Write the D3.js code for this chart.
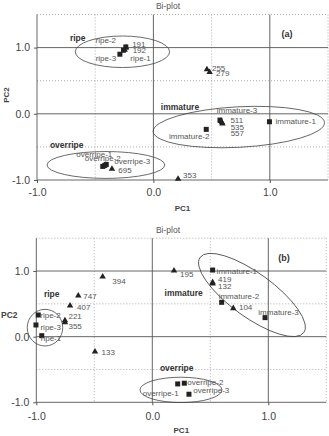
<!DOCTYPE html>
<html>
<head>
<meta charset="utf-8">
<script src="https://cdn.jsdelivr.net/npm/d3@7"></script>
<style>
  body { margin: 0; background: #fff; }
  svg { display: block; font-family: 'Liberation Sans', Arial, sans-serif; }
</style>
</head>
<body>
<svg id="chart" width="329" height="436"></svg>
<script>
// shared axis ticks
const majorTicks = [-1, 0, 1]
const minorTicks = [-0.5, 0.5, 1.5]
const tickLabels = ['-1.0', '0.0', '1.0']

// panel (a) samples (squares) and volatiles (triangles), PC1 / PC2 scores
const samplesA = [
  { name: 'ripe-2', x: -0.237, y: 1.01 },
  { name: 'ripe-1', x: -0.257, y: 0.96 },
  { name: 'ripe-3', x: -0.288, y: 0.9 },
  { name: 'immature-3', x: 0.572, y: -0.095 },
  { name: 'immature-1', x: 0.997, y: -0.12 },
  { name: 'immature-2', x: 0.454, y: -0.235 },
  { name: 'overripe-1', x: -0.435, y: -0.795 },
  { name: 'overripe-2', x: -0.418, y: -0.78 },
  { name: 'overripe-3', x: -0.405, y: -0.765 },
]
const volatilesA = [
  { name: '191', x: -0.234, y: 1.0 },
  { name: '192', x: -0.247, y: 0.967 },
  { name: '255', x: 0.46, y: 0.67 },
  { name: '279', x: 0.483, y: 0.628 },
  { name: '511', x: 0.58, y: -0.11 },
  { name: '535', x: 0.589, y: -0.13 },
  { name: '557', x: 0.593, y: -0.15 },
  { name: '695', x: -0.356, y: -0.833 },
  { name: '353', x: 0.212, y: -0.983 },
]
const groupsA = [
  { name: 'ripe', cx: -0.266, cy: 0.937, rx: 0.405, ry: 0.238, angle: 0 },
  { name: 'immature', cx: 0.734, cy: -0.2, rx: 0.737, ry: 0.306, angle: -3 },
  { name: 'overripe', cx: -0.408, cy: -0.773, rx: 0.506, ry: 0.203, angle: 0 },
]

// panel (b)
const samplesB = [
  { name: 'ripe-2', x: -0.983, y: 0.33 },
  { name: 'ripe-3', x: -1.003, y: 0.178 },
  { name: 'ripe-1', x: -0.953, y: 0.015 },
  { name: 'immature-1', x: 0.52, y: 1.015 },
  { name: 'immature-2', x: 0.598, y: 0.523 },
  { name: 'immature-3', x: 0.972, y: 0.29 },
  { name: 'overripe-1', x: 0.219, y: -0.72 },
  { name: 'overripe-2', x: 0.276, y: -0.709 },
  { name: 'overripe-3', x: 0.316, y: -0.877 },
]
const volatilesB = [
  { name: '195', x: 0.187, y: 1.005 },
  { name: '394', x: -0.428, y: 0.913 },
  { name: '747', x: -0.638, y: 0.624 },
  { name: '407', x: -0.709, y: 0.472 },
  { name: '221', x: -0.753, y: 0.247 },
  { name: '355', x: -0.753, y: 0.216 },
  { name: '133', x: -0.494, y: -0.228 },
  { name: '419', x: 0.52, y: 0.828 },
  { name: '132', x: 0.52, y: 0.807 },
  { name: '104', x: 0.698, y: 0.432 },
]
const groupsB = [
  { name: 'ripe', cx: -0.925, cy: 0.137, rx: 0.153, ry: 0.279, angle: 0 },
  { name: 'immature', cx: 0.859, cy: 0.635, rx: 0.552, ry: 0.335, angle: 36 },
  { name: 'overripe', cx: 0.247, cy: -0.811, rx: 0.353, ry: 0.193, angle: 0 },
]

// label placement (px offsets from the mark) -- layout only
const labelPosA = {
  'ripe-2': [-20, -6.5, 'middle'], 'ripe-1': [17, 8.5, 'middle'], 'ripe-3': [-14, 4.5, 'middle'],
  '191': [6, -2.5, 'start'], '192': [8, 1.5, 'start'],
  '255': [5, -0.5, 'start'], '279': [6.5, 1.5, 'start'],
  'immature-3': [17, -9, 'middle'], '511': [9.5, 0, 'start'], '535': [8.7, 5.2, 'start'], '557': [8.2, 10.5, 'start'],
  'immature-1': [6, 0, 'start'], 'immature-2': [-17, 7.4, 'middle'],
  'overripe-1': [-8.5, -11.5, 'middle'], 'overripe-2': [-2, -6.5, 'middle'], 'overripe-3': [8, -2.2, 'start'],
  '695': [13, 2, 'middle'], '353': [5, -3, 'start'],
}
const groupLabelPosA = { ripe: [77.7, 39], immature: [180, 107.3], overripe: [66.7, 145.7] }

const labelPosB = {
  '195': [6, 4, 'start'], '394': [9.6, 5, 'start'], '747': [5, 1, 'start'], '407': [7, 2.5, 'start'],
  '221': [3.5, -4, 'start'], '355': [3.5, 4.5, 'start'], '133': [6.5, 1.5, 'start'],
  'ripe-2': [2, 1, 'start'], 'ripe-3': [4.5, 2.7, 'start'], 'ripe-1': [-1, 3.5, 'start'],
  'immature-1': [4, 1.7, 'start'], '419': [5.5, -2.3, 'start'], '132': [5.5, 3.7, 'start'],
  'immature-2': [-3, -5.5, 'start'], '104': [5.7, -0.6, 'start'], 'immature-3': [-6.7, -4.4, 'start'],
  'overripe-2': [3, 0, 'start'], 'overripe-3': [4.3, -3.3, 'start'], 'overripe-1': [1, 10, 'end'],
}
const groupLabelPosB = { ripe: [51.7, 295], immature: [183.7, 294], overripe: [176.7, 369] }

const svg = d3.select('#chart')

function drawPanel(opt) {
  const { box, samples, volatiles, groups, labelPos, groupLabelPos, tag, tagPos } = opt

  const x = d3.scaleLinear().domain([-1, 1.5]).range([box.left, box.right])
  const y = d3.scaleLinear().domain([-1, 1.5]).range([box.bottom, box.top])

  const g = svg.append('g')

  // title
  g.append('text')
    .attr('x', 168)
    .attr('y', box.top - 5.5)
    .attr('text-anchor', 'middle')
    .attr('font-size', 8.5)
    .attr('fill', '#555')
    .text('Bi-plot')

  // dotted minor grid
  const grid = g.append('g').attr('stroke', '#999').attr('stroke-width', 0.8)
    .attr('stroke-dasharray', '1,2')
  grid.selectAll('.vx').data(minorTicks).join('line')
    .attr('x1', (d) => x(d)).attr('x2', (d) => x(d))
    .attr('y1', box.top).attr('y2', box.bottom)
  grid.selectAll('.hy').data(minorTicks).join('line').attr('class', 'hy')
    .attr('y1', (d) => y(d)).attr('y2', (d) => y(d))
    .attr('x1', box.left).attr('x2', box.right)

  // solid major grid
  const major = g.append('g').attr('stroke', '#555').attr('stroke-width', 0.9)
  major.selectAll('.mv').data([0, 1]).join('line').attr('class', 'mv')
    .attr('x1', (d) => x(d)).attr('x2', (d) => x(d))
    .attr('y1', box.top).attr('y2', box.bottom)
  major.selectAll('.mh').data([0, 1]).join('line').attr('class', 'mh')
    .attr('y1', (d) => y(d)).attr('y2', (d) => y(d))
    .attr('x1', box.left).attr('x2', box.right)

  // axes
  const xAxis = g.append('g')
    .attr('transform', `translate(0,${box.bottom})`)
    .call(d3.axisBottom(x).tickValues(majorTicks).tickSize(3).tickSizeOuter(0)
      .tickFormat((d, i) => tickLabels[i]))
  const yAxis = g.append('g')
    .attr('transform', `translate(${box.left},0)`)
    .call(d3.axisLeft(y).tickValues(majorTicks).tickSize(3).tickSizeOuter(0)
      .tickFormat((d, i) => tickLabels[i]))
  for (const ax of [xAxis, yAxis]) {
    ax.select('.domain').attr('stroke', '#555').attr('stroke-width', 0.9)
    ax.selectAll('.tick line').attr('stroke', '#555')
    ax.selectAll('text').attr('font-size', 10.5).attr('fill', '#444')
      .attr('font-family', 'Liberation Sans, Arial, sans-serif')
  }
  xAxis.select('.domain').attr('d', `M${box.left},0H${box.right}`)
  yAxis.select('.domain').attr('d', `M0,${box.bottom}V${box.top}`)
  xAxis.selectAll('text').attr('dy', opt.xLabelDy)
  yAxis.selectAll('text').attr('dx', -1)

  // axis titles
  g.append('text')
    .attr('x', (box.left + box.right) / 2)
    .attr('y', box.bottom + 31)
    .attr('text-anchor', 'middle')
    .attr('font-size', 8)
    .attr('font-weight', 'bold')
    .attr('fill', '#444')
    .text('PC1')
  if (opt.pc2Rotated) {
    g.append('text')
      .attr('transform', `translate(${opt.pc2Pos[0]},${opt.pc2Pos[1]}) rotate(-90)`)
      .attr('text-anchor', 'middle')
      .attr('font-size', 8)
      .attr('font-weight', 'bold')
      .attr('fill', '#444')
      .text('PC2')
  } else {
    g.append('text')
      .attr('x', opt.pc2Pos[0])
      .attr('y', opt.pc2Pos[1])
      .attr('font-size', 8.5)
      .attr('font-weight', 'bold')
      .attr('fill', '#444')
      .text('PC2')
  }

  // panel tag
  g.append('text')
    .attr('x', tagPos[0]).attr('y', tagPos[1])
    .attr('text-anchor', 'middle')
    .attr('dominant-baseline', 'middle')
    .attr('font-size', 9)
    .attr('font-weight', 'bold')
    .attr('fill', '#333')
    .text(tag)

  // group ellipses
  g.append('g').selectAll('ellipse').data(groups).join('ellipse')
    .attr('cx', 0).attr('cy', 0)
    .attr('rx', (d) => x(d.rx) - x(0))
    .attr('ry', (d) => y(0) - y(d.ry))
    .attr('transform', (d) => `translate(${x(d.cx)},${y(d.cy)}) rotate(${d.angle})`)
    .attr('fill', 'none')
    .attr('stroke', '#444')
    .attr('stroke-width', 0.8)

  // group names
  g.append('g').selectAll('text').data(groups).join('text')
    .attr('x', (d) => groupLabelPos[d.name][0])
    .attr('y', (d) => groupLabelPos[d.name][1])
    .attr('text-anchor', 'middle')
    .attr('dominant-baseline', 'middle')
    .attr('font-size', 8.5)
    .attr('font-weight', 'bold')
    .attr('fill', '#333')
    .text((d) => d.name)

  // volatiles (triangles)
  const tri = d3.symbol().type(d3.symbolTriangle).size(18)
  g.append('g').selectAll('path').data(volatiles).join('path')
    .attr('d', tri)
    .attr('transform', (d) => `translate(${x(d.x)},${y(d.y)})`)
    .attr('fill', '#222')

  // samples (squares)
  g.append('g').selectAll('rect').data(samples).join('rect')
    .attr('x', (d) => x(d.x) - 2.5)
    .attr('y', (d) => y(d.y) - 2.5)
    .attr('width', 5).attr('height', 5)
    .attr('fill', '#222')

  // point labels
  g.append('g').selectAll('text').data(samples.concat(volatiles)).join('text')
    .attr('x', (d) => x(d.x) + labelPos[d.name][0])
    .attr('y', (d) => y(d.y) + labelPos[d.name][1])
    .attr('text-anchor', (d) => labelPos[d.name][2])
    .attr('dominant-baseline', 'middle')
    .attr('font-size', 8)
    .attr('fill', '#555')
    .text((d) => d.name)
}

drawPanel({
  box: { left: 37, right: 328, top: 14.5, bottom: 180 },
  samples: samplesA, volatiles: volatilesA, groups: groupsA,
  labelPos: labelPosA, groupLabelPos: groupLabelPosA,
  tag: '(a)', tagPos: [287, 35],
  pc2Rotated: true, pc2Pos: [9, 95], xLabelDy: '0.95em',
})

drawPanel({
  box: { left: 36.3, right: 326.3, top: 238.2, bottom: 402.3 },
  samples: samplesB, volatiles: volatilesB, groups: groupsB,
  labelPos: labelPosB, groupLabelPos: groupLabelPosB,
  tag: '(b)', tagPos: [284, 258.3],
  pc2Rotated: false, pc2Pos: [1, 317.5], xLabelDy: '1.15em',
})
</script>
</body>
</html>
